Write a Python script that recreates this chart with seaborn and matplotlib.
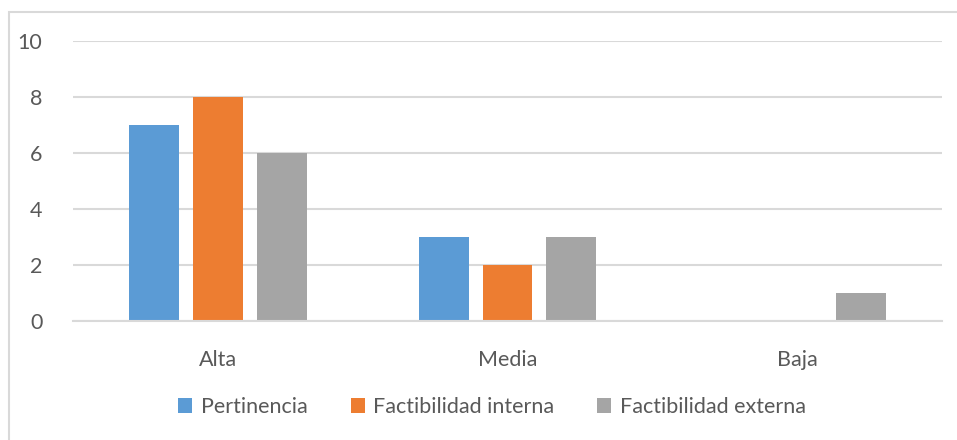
import matplotlib
matplotlib.use("Agg")
import matplotlib.pyplot as plt
import seaborn as sns
import pandas as pd
from matplotlib.patches import Rectangle, Patch

categories = ["Alta", "Media", "Baja"]
series_names = ["Pertinencia", "Factibilidad interna", "Factibilidad externa"]
pertinencia = [7, 3, 0]
fact_interna = [8, 2, 0]
fact_externa = [6, 3, 1]
colors = ["#5B9BD5", "#ED7D31", "#A5A5A5"]
yticks = [0, 2, 4, 6, 8, 10]

rows = []
for name, vals in zip(series_names, [pertinencia, fact_interna, fact_externa]):
    for c, v in zip(categories, vals):
        rows.append({"cat": c, "serie": name, "valor": v})
df = pd.DataFrame(rows)

sns.set_style("white")
plt.rcParams["font.family"] = ["Lato", "DejaVu Sans"]

W, H = 957, 440
fig = plt.figure(figsize=(W / 100, H / 100), dpi=100)
ax = fig.add_axes([73 / W, 1 - 321 / H, (942 - 73) / W, (321 - 41) / H])

sns.barplot(data=df, x="cat", y="valor", hue="serie", order=categories,
            hue_order=series_names, palette=colors, width=0.662, gap=0.22,
            saturation=1, ax=ax, legend=False, edgecolor="none")

ax.set_ylim(0, 10)
ax.set_xlim(-0.5, 2.5)
ax.set_yticks(yticks)
ax.set_yticklabels([str(t) for t in yticks])
ax.yaxis.grid(True, color="#D9D9D9", linewidth=1.5)
ax.set_axisbelow(True)
for s in ["top", "right", "left"]:
    ax.spines[s].set_visible(False)
ax.spines["bottom"].set_color("#D9D9D9")
ax.spines["bottom"].set_linewidth(1.5)
ax.tick_params(axis="both", length=0, labelsize=15.5, colors="#595959")
ax.tick_params(axis="y", pad=22)
ax.tick_params(axis="x", pad=21)
ax.set_xlabel("")
ax.set_ylabel("")

handles = [Patch(facecolor=c, edgecolor="none") for c in colors]
fig.legend(handles, series_names, loc="center", bbox_to_anchor=(492 / W, 1 - 407 / H),
           ncol=3, frameon=False, fontsize=15.5, labelcolor="#595959",
           handlelength=0.65, handleheight=0.65, handletextpad=0.4, columnspacing=2.0)

fig.patches.append(Rectangle((9 / W, -0.1), 1.2, 1 - 12 / H + 0.1, transform=fig.transFigure,
                             fill=False, edgecolor="#D9D9D9", linewidth=1.5))

fig.savefig("out.png", dpi=100, facecolor="white")
